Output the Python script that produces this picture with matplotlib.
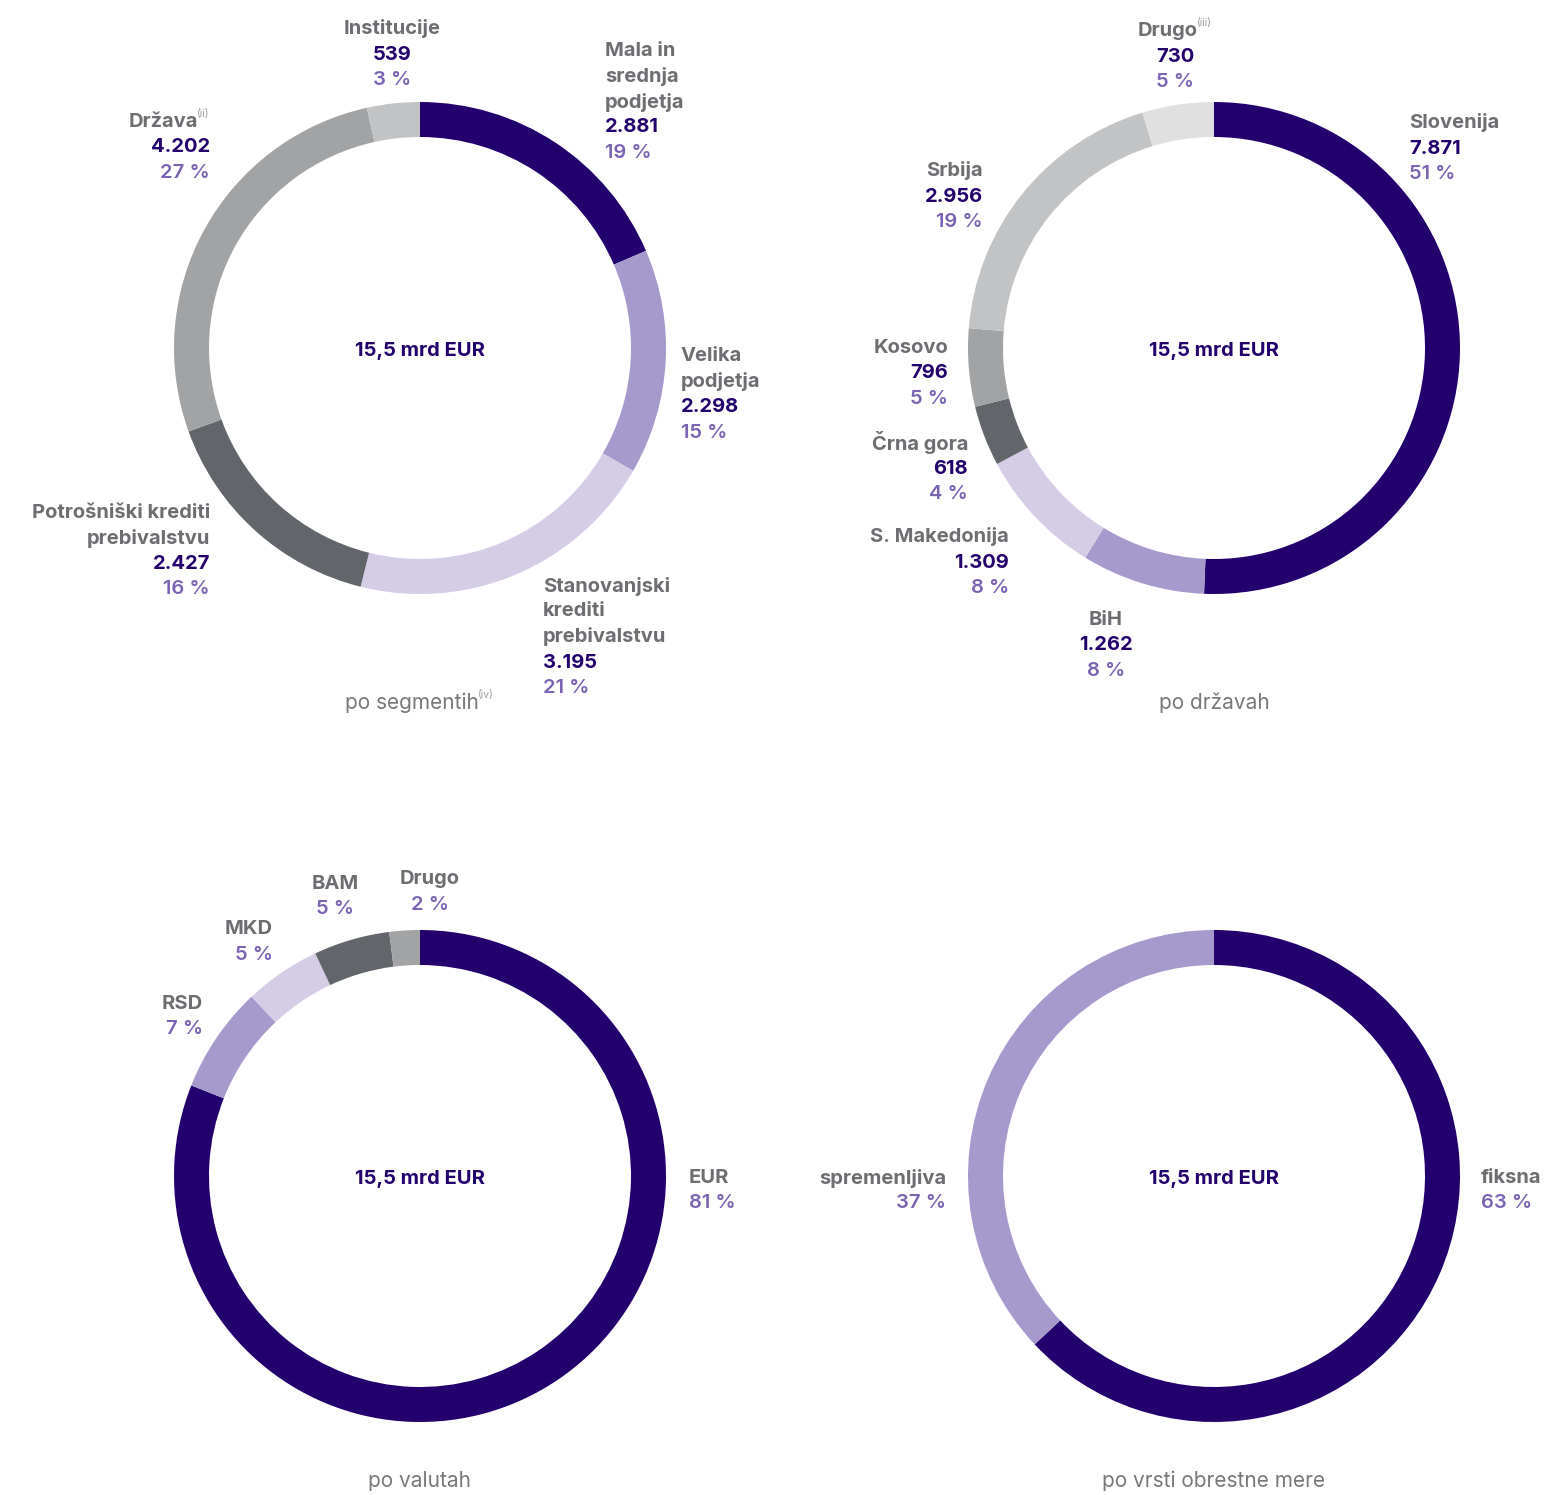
"""Loan portfolio breakdown: four donut charts (15,5 mrd EUR)."""
import matplotlib.pyplot as plt

# ---- data -------------------------------------------------------------
seg_names = ["Mala in\nsrednja\npodjetja", "Velika\npodjetja",
             "Stanovanjski\nkrediti\nprebivalstvu",
             "Potrošniški krediti\nprebivalstvu", "Država", "Institucije"]
seg_values = [2881, 2298, 3195, 2427, 4202, 539]
seg_pct = [19, 15, 21, 16, 27, 3]

cty_names = ["Slovenija", "BiH", "S. Makedonija", "Črna gora", "Kosovo",
             "Srbija", "Drugo"]
cty_values = [7871, 1262, 1309, 618, 796, 2956, 730]
cty_pct = [51, 8, 8, 4, 5, 19, 5]

cur_names = ["EUR", "RSD", "MKD", "BAM", "Drugo"]
cur_pct = [81, 7, 5, 5, 2]

rate_names = ["fiksna", "spremenljiva"]
rate_pct = [63, 37]

total_label = "15,5 mrd EUR"
subtitles = ["po segmentih", "po državah", "po valutah", "po vrsti obrestne mere"]

# ---- style ------------------------------------------------------------
DARK = "#22006E"
LPURP = "#A699CB"
LAV = "#D5CDE6"
DGRAY = "#626569"
MGRAY = "#A2A3A5"
LGRAY = "#C2C3C5"
VLGRAY = "#E0E0E0"
TXT_GRAY = "#6D6E71"
PCT_PURP = "#7B63B4"
FONT = ["Inter", "DejaVu Sans"]
FS = 14.5
SUP_FS = 7.5
LINE = 25.5

W, H = 1550, 1495
R_OUT, R_W = 246, 35

fig = plt.figure(figsize=(W / 100, H / 100), dpi=100)
ax = fig.add_axes([0, 0, 1, 1])
renderer = fig.canvas.get_renderer()


def fmt(v):
    return f"{v:,}".replace(",", ".")


def text_width(s, **kw):
    t = ax.text(0, 0, s, **kw)
    w = t.get_window_extent(renderer).width
    t.remove()
    return w


def label(x, y, name, value, pct, ha, sup=None):
    """Draw a label block; y is the centre of the first line (pixels)."""
    lines = name.split("\n")
    nkw = dict(fontsize=FS, fontweight="bold", color=TXT_GRAY, family=FONT, va="center")
    skw = dict(fontsize=SUP_FS, color="#9A9B9E", family=FONT, va="center")
    for i, ln in enumerate(lines):
        yy = y + i * LINE
        if sup and i == len(lines) - 1:
            wm = text_width(ln, **nkw)
            ws = text_width(sup, **skw)
            if ha == "right":
                x0 = x - wm - ws
            elif ha == "center":
                x0 = x - (wm + ws) / 2
            else:
                x0 = x
            ax.text(x0, yy, ln, ha="left", **nkw)
            ax.text(x0 + wm - 1, yy - 8, sup, ha="left", **skw)
        else:
            ax.text(x, yy, ln, ha=ha, **nkw)
    yy = y + len(lines) * LINE
    if value is not None:
        ax.text(x, yy, value, ha=ha, fontsize=FS, fontweight="bold", color=DARK,
                family=FONT, va="center")
        yy += LINE
    ax.text(x, yy, f"{pct} %", ha=ha, fontsize=FS, fontweight="semibold",
            color=PCT_PURP, family=FONT, va="center")


def donut(cx, cy, values, colors, subtitle, sup=None):
    ax.pie(values, colors=colors, center=(cx, cy), radius=R_OUT,
           startangle=-90, counterclock=True, frame=True,
           wedgeprops=dict(width=R_W, linewidth=0))
    ax.text(cx, cy + 3, total_label, ha="center", va="center", fontsize=FS,
            fontweight="bold", color=DARK, family=FONT)
    skw = dict(fontsize=15, color="#77787B", family=FONT, va="center")
    sy = cy + 355 if cy < 700 else cy + 305
    if sup:
        wm = text_width(subtitle, **skw)
        ws = text_width(sup, fontsize=SUP_FS, family=FONT)
        x0 = cx - (wm + ws) / 2
        ax.text(x0, sy, subtitle, ha="left", **skw)
        ax.text(x0 + wm - 1, sy - 8, sup, ha="left", va="center", fontsize=SUP_FS,
                color="#9A9B9E", family=FONT)
    else:
        ax.text(cx, sy, subtitle, ha="center", **skw)


# ---- segments ---------------------------------------------------------
donut(420, 348, seg_values, [DARK, LPURP, LAV, DGRAY, MGRAY, LGRAY],
      subtitles[0], sup="(iv)")
seg_pos = [(605, 51, "left"), (681, 356, "left"), (543, 586, "left"),
           (210, 513, "right"), (210, 122, "right"), (392, 29, "center")]
for (x, y, ha), n, v, p in zip(seg_pos, seg_names, seg_values, seg_pct):
    label(x, y, n, fmt(v), p, ha, sup="(ii)" if n == "Država" else None)

# ---- countries --------------------------------------------------------
donut(1214, 348, cty_values, [DARK, LPURP, LAV, DGRAY, MGRAY, LGRAY, VLGRAY],
      subtitles[1])
cty_pos = [(1409, 123, "left"), (1106, 620, "center"), (1009, 537, "right"),
           (968, 443, "right"), (948, 348, "right"), (983, 171, "right"),
           (1175, 31, "center")]
for (x, y, ha), n, v, p in zip(cty_pos, cty_names, cty_values, cty_pct):
    label(x, y, n, fmt(v), p, ha, sup="(iii)" if n == "Drugo" else None)

# ---- currencies -------------------------------------------------------
donut(420, 1176, cur_pct, [DARK, LPURP, LAV, DGRAY, MGRAY], subtitles[2])
cur_pos = [(689, 1178, "left"), (203, 1004, "right"), (273, 929, "right"),
           (335, 884, "center"), (430, 879, "center")]
for (x, y, ha), n, p in zip(cur_pos, cur_names, cur_pct):
    label(x, y, n, None, p, ha)

# ---- interest rate type -----------------------------------------------
donut(1214, 1176, rate_pct, [DARK, LPURP], subtitles[3])
rate_pos = [(1481, 1178, "left"), (946, 1178, "right")]
for (x, y, ha), n, p in zip(rate_pos, rate_names, rate_pct):
    label(x, y, n, None, p, ha)

ax.set_xlim(0, W)
ax.set_ylim(H, 0)
ax.set_aspect("equal")
ax.axis("off")
fig.savefig("out.png", dpi=100, facecolor="white")
